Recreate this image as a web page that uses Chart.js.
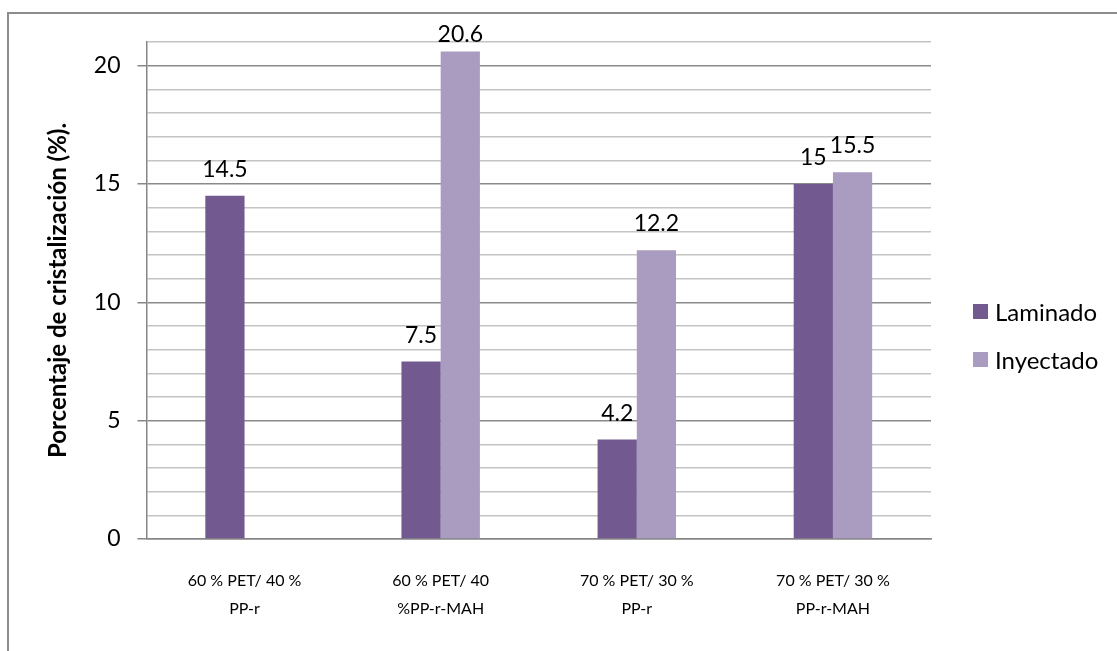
<!DOCTYPE html>
<html>
<head>
<meta charset="utf-8">
<script src="https://cdn.jsdelivr.net/npm/chart.js@4.4.1/dist/chart.umd.min.js"></script>
<style>
	body { margin: 0; background: #fff; overflow: hidden; }
	#frame {
		position: absolute; left: 7px; top: 12px; width: 1200px; height: 700px;
		border-left: 2px solid #8c8c8c; border-top: 2px solid #8c8c8c;
	}
	#wrap { position: absolute; left: 0; top: 0; width: 1117px; height: 651px; }
	#legend {
		position: absolute; left: 973px; top: 299px;
		font-family: Lato, sans-serif; font-size: 24px; color: #000;
	}
	.legend__row { display: flex; align-items: center; height: 24px; margin-bottom: 24px; }
	.legend__box { width: 15px; height: 15px; margin-right: 7px; }
</style>
</head>
<body>
<div id="frame"></div>
<div id="wrap"><canvas id="myChart" width="1117" height="651"></canvas></div>
<div id="legend"></div>
<script>
// ***** DATA *****
let categories = [
	['60 % PET/ 40 %', 'PP-r'],
	['60 % PET/ 40', '%PP-r-MAH'],
	['70 % PET/ 30 %', 'PP-r'],
	['70 % PET/ 30 %', 'PP-r-MAH'],
]
let laminado = [14.5, 7.5, 4.2, 15]
let inyectado = [null, 20.6, 12.2, 15.5]
let seriesNames = ['Laminado', 'Inyectado']
let seriesColors = ['#725a90', '#aa9bc0']
let yTitle = 'Porcentaje de cristalización (%).'

Chart.defaults.color = '#000'
Chart.defaults.font.family = 'Lato, sans-serif'

// ***** PLUGINS *****
// value labels above each bar, kept inside the top of the plot
let valueLabels = {
	id: 'valueLabels',
	afterDatasetsDraw(chart) {
		let ctx = chart.ctx
		ctx.save()
		ctx.font = '23px Lato, sans-serif'
		ctx.fillStyle = '#000'
		ctx.textAlign = 'center'
		ctx.textBaseline = 'alphabetic'
		chart.data.datasets.forEach((ds, i) => {
			chart.getDatasetMeta(i).data.forEach((bar, j) => {
				if (ds.data[j] == null) return
				let y = Math.max(bar.y - 19, chart.chartArea.top)
				ctx.fillText(String(ds.data[j]), bar.x, y)
			})
		})
		ctx.restore()
	},
}

// html legend built from the datasets
let htmlLegend = {
	id: 'htmlLegend',
	afterUpdate(chart) {
		let box = document.getElementById('legend')
		box.innerHTML = ''
		chart.data.datasets.forEach((ds) => {
			let row = document.createElement('div')
			row.className = 'legend__row'
			let sw = document.createElement('span')
			sw.className = 'legend__box'
			sw.style.background = ds.backgroundColor
			let txt = document.createElement('span')
			txt.textContent = ds.label
			row.appendChild(sw)
			row.appendChild(txt)
			box.appendChild(row)
		})
	},
}

// ***** CHART.JS *****
let ctx = document.getElementById('myChart').getContext('2d')
let myChart = new Chart(ctx, {
	type: 'bar',
	data: {
		labels: categories,
		datasets: [
			{
				label: seriesNames[0],
				data: laminado,
				backgroundColor: seriesColors[0],
			},
			{
				label: seriesNames[1],
				data: inyectado,
				backgroundColor: seriesColors[1],
			},
		],
	},
	options: {
		responsive: false,
		animation: false,
		categoryPercentage: 0.4,
		barPercentage: 1,
		layout: {
			padding: { left: 44, top: 42, right: 186, bottom: 0 },
		},
		plugins: {
			legend: { display: false },
			tooltip: { enabled: false },
		},
		scales: {
			x: {
				grid: { display: false, drawTicks: false },
				border: { display: true, color: '#868686', width: 1.5 },
				ticks: {
					font: { size: 16, lineHeight: 1.75 },
					padding: 28,
					maxRotation: 0,
					autoSkip: false,
				},
			},
			y: {
				min: 0,
				max: 21,
				border: { display: true, color: '#868686', width: 1.5 },
				grid: {
					color: (c) => (c.tick.value % 5 === 0 ? '#8a8a8a' : '#c4c4c4'),
					tickColor: (c) => (c.tick.value % 5 === 0 ? '#868686' : 'rgba(0,0,0,0)'),
					tickLength: 9,
					lineWidth: 1.5,
				},
				ticks: {
					stepSize: 1,
					autoSkip: false,
					padding: 17,
					font: { size: 23 },
					callback: (v) => (v % 5 === 0 ? v : ''),
				},
				title: {
					display: true,
					text: yTitle,
					font: { size: 24, weight: 'bold' },
					padding: { top: 0, bottom: 4 },
				},
			},
		},
	},
	plugins: [valueLabels, htmlLegend],
})
</script>
</body>
</html>
